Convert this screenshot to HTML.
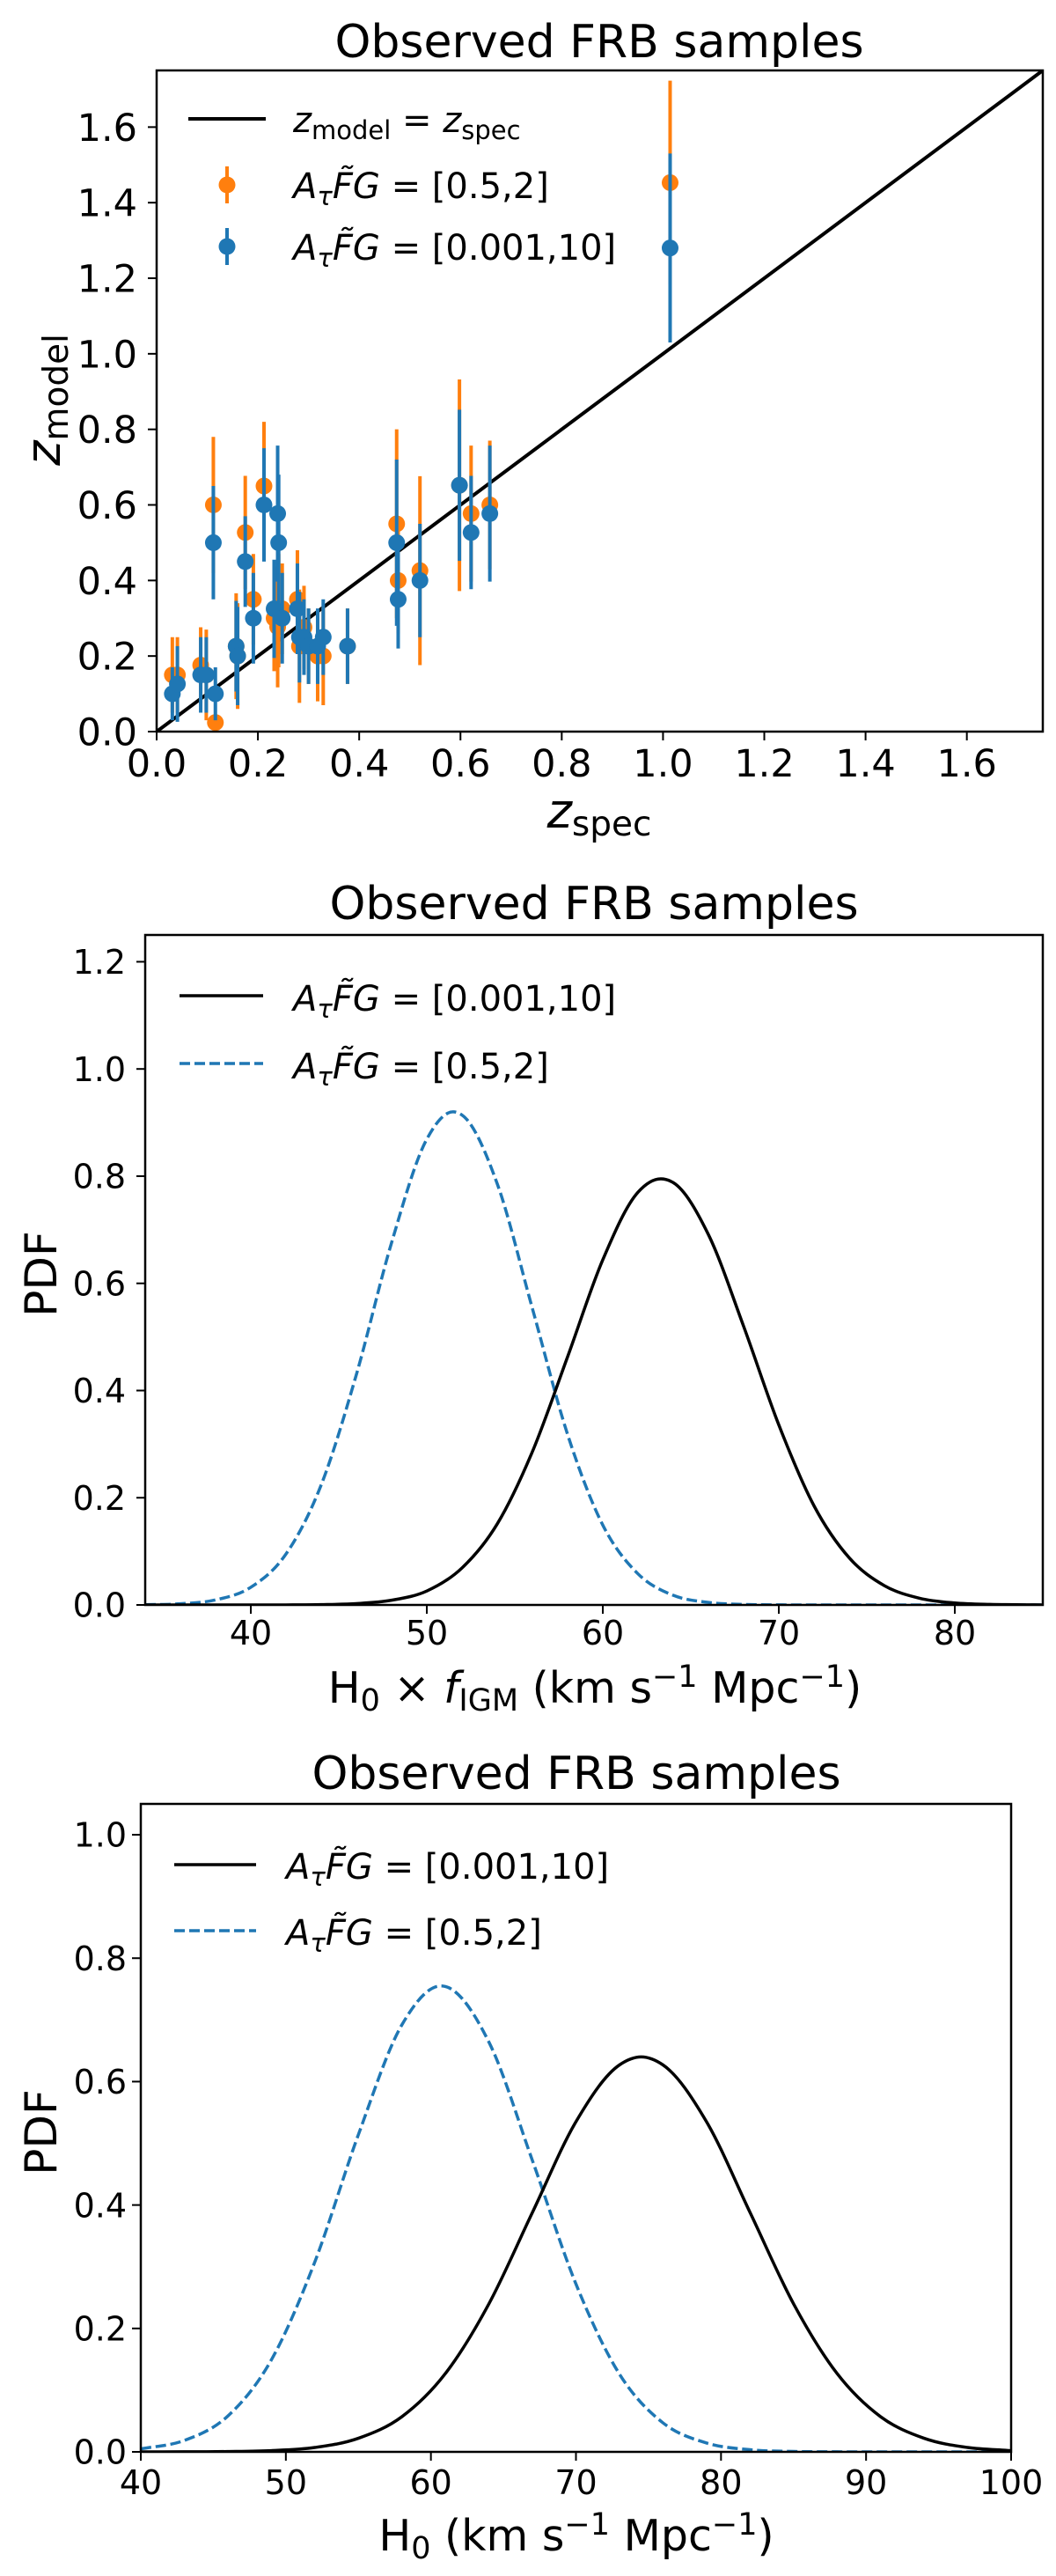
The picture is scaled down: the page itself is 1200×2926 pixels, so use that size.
<!DOCTYPE html>
<html><head><meta charset="utf-8">
<style>
html,body{margin:0;padding:0;background:#fff;}
svg{display:block;font-family:"DejaVu Sans","Liberation Sans",sans-serif;}
</style></head>
<body>
<svg id="fig" width="1200" height="2926" viewBox="0 0 1200 2926" xmlns="http://www.w3.org/2000/svg">
  <defs>
    <clipPath id="clip1"><rect x="178" y="80" width="1007" height="751"/></clipPath>
    <clipPath id="clip2"><rect x="165" y="1062" width="1020" height="761"/></clipPath>
    <clipPath id="clip3"><rect x="160" y="2049" width="989" height="736"/></clipPath>
  </defs>

  <!-- Panel 1 static text -->
  <text x="681" y="65" font-size="52" text-anchor="middle">Observed FRB samples</text>
  <text x="681" y="940" font-size="54" text-anchor="middle"><tspan font-style="italic">z</tspan><tspan font-size="39" dy="9">spec</tspan></text>
  <text transform="translate(68,454) rotate(-90)" font-size="54" text-anchor="middle"><tspan font-style="italic">z</tspan><tspan font-size="39" dy="9">model</tspan></text>

  <g>
    <line x1="214" y1="135" x2="302" y2="135" stroke="#000" stroke-width="4"/>
    <text x="333" y="150" font-size="40"><tspan font-style="italic">z</tspan><tspan font-size="29" dy="8">model</tspan><tspan dy="-8"> = </tspan><tspan font-style="italic">z</tspan><tspan font-size="29" dy="8">spec</tspan></text>
    <line x1="258" y1="189" x2="258" y2="231" stroke="#ff7f0e" stroke-width="4"/>
    <circle cx="258" cy="210" r="9.5" fill="#ff7f0e"/>
    <text x="333" y="225" font-size="40"><tspan font-style="italic">A</tspan><tspan font-size="29" dy="8" font-style="italic">τ</tspan><tspan dy="-8" font-style="italic">F̃G</tspan> = [0.5,2]</text>
    <line x1="258" y1="259" x2="258" y2="301" stroke="#1f77b4" stroke-width="4"/>
    <circle cx="258" cy="280" r="9.5" fill="#1f77b4"/>
    <text x="333" y="295" font-size="40"><tspan font-style="italic">A</tspan><tspan font-size="29" dy="8" font-style="italic">τ</tspan><tspan dy="-8" font-style="italic">F̃G</tspan> = [0.001,10]</text>
  </g>

  <!-- Panel 2 static text -->
  <text x="675" y="1044" font-size="52" text-anchor="middle">Observed FRB samples</text>
  <text x="676" y="1934" font-size="49" text-anchor="middle">H<tspan font-size="35" dy="9">0</tspan><tspan dy="-9"> × </tspan><tspan font-style="italic">f</tspan><tspan font-size="35" dy="9">IGM</tspan><tspan dy="-9"> (km s</tspan><tspan font-size="35" dy="-18">−1</tspan><tspan dy="18"> Mpc</tspan><tspan font-size="35" dy="-18">−1</tspan><tspan dy="18">)</tspan></text>
  <text transform="translate(64,1447) rotate(-90)" font-size="50" text-anchor="middle">PDF</text>
  <g>
    <line x1="204" y1="1131" x2="299" y2="1131" stroke="#000" stroke-width="3.5"/>
    <text x="333" y="1148" font-size="40"><tspan font-style="italic">A</tspan><tspan font-size="29" dy="8" font-style="italic">τ</tspan><tspan dy="-8" font-style="italic">F̃G</tspan> = [0.001,10]</text>
    <line x1="204" y1="1208" x2="299" y2="1208" stroke="#1f77b4" stroke-width="3.5" stroke-dasharray="12 5"/>
    <text x="333" y="1225" font-size="40"><tspan font-style="italic">A</tspan><tspan font-size="29" dy="8" font-style="italic">τ</tspan><tspan dy="-8" font-style="italic">F̃G</tspan> = [0.5,2]</text>
  </g>

  <!-- Panel 3 static text -->
  <text x="655" y="2032" font-size="52" text-anchor="middle">Observed FRB samples</text>
  <text x="655" y="2897" font-size="49" text-anchor="middle">H<tspan font-size="35" dy="9">0</tspan><tspan dy="-9"> (km s</tspan><tspan font-size="35" dy="-18">−1</tspan><tspan dy="18"> Mpc</tspan><tspan font-size="35" dy="-18">−1</tspan><tspan dy="18">)</tspan></text>
  <text transform="translate(64,2422) rotate(-90)" font-size="50" text-anchor="middle">PDF</text>
  <g>
    <line x1="198" y1="2118" x2="291" y2="2118" stroke="#000" stroke-width="3.5"/>
    <text x="325" y="2134" font-size="40"><tspan font-style="italic">A</tspan><tspan font-size="29" dy="8" font-style="italic">τ</tspan><tspan dy="-8" font-style="italic">F̃G</tspan> = [0.001,10]</text>
    <line x1="198" y1="2193" x2="291" y2="2193" stroke="#1f77b4" stroke-width="3.5" stroke-dasharray="12 5"/>
    <text x="325" y="2209" font-size="40"><tspan font-style="italic">A</tspan><tspan font-size="29" dy="8" font-style="italic">τ</tspan><tspan dy="-8" font-style="italic">F̃G</tspan> = [0.5,2]</text>
  </g>
</svg>

<script>
// ---------- Panel 1 data ----------
const zSpec = [0.031,0.041,0.087,0.098,0.112,0.116,0.157,0.160,0.175,0.191,0.212,0.232,0.239,0.241,0.248,0.278,0.282,0.291,0.300,0.318,0.329,0.377,0.474,0.477,0.520,0.598,0.621,0.658,1.014];
const zModelOrange = [0.15,0.15,0.176,0.15,0.60,0.024,0.226,0.20,0.527,0.35,0.65,0.30,0.277,0.32,0.325,0.35,0.226,0.276,0.226,0.20,0.20,0.226,0.55,0.40,0.426,0.652,0.577,0.60,1.453];
const errOrange = [0.10,0.10,0.10,0.12,0.18,0.02,0.14,0.14,0.15,0.12,0.17,0.14,0.16,0.15,0.12,0.13,0.15,0.11,0.10,0.12,0.13,0.10,0.25,0.14,0.25,0.28,0.18,0.17,0.27];
const zModelBlue = [0.10,0.126,0.15,0.15,0.50,0.10,0.226,0.20,0.45,0.30,0.60,0.325,0.577,0.50,0.30,0.325,0.25,0.25,0.226,0.226,0.25,0.226,0.50,0.35,0.40,0.652,0.527,0.577,1.28];
const errBlue = [0.07,0.10,0.10,0.10,0.15,0.07,0.12,0.13,0.12,0.12,0.15,0.13,0.18,0.18,0.12,0.12,0.12,0.10,0.10,0.10,0.10,0.10,0.22,0.13,0.15,0.20,0.15,0.18,0.25];
const ticks1 = [0.0,0.2,0.4,0.6,0.8,1.0,1.2,1.4,1.6];
const tickLabels1 = ["0.0","0.2","0.4","0.6","0.8","1.0","1.2","1.4","1.6"];

// ---------- Panel 2 data ----------
const h0f_x = [34,36,38,40,42,44,46,48,50,52,54,56,58,60,62,63.3,64,66,68,70,72,74,76,78,80,82,84,85];
const h0f_black = [0,0,0,0.00002,0.0001,0.0006,0.0025,0.0088,0.026,0.069,0.151,0.286,0.463,0.644,0.770,0.795,0.788,0.691,0.520,0.336,0.185,0.088,0.036,0.0125,0.0037,0.001,0.0003,0.0001];
const h0f_blueX = [34,36,38,40,42,44,46,48,50,51.5,52,54,56,58,60,62,64,66,68,70,75,80,85];
const h0f_blue = [0.0004,0.0022,0.0094,0.033,0.095,0.224,0.430,0.676,0.869,0.92,0.914,0.786,0.553,0.318,0.149,0.058,0.018,0.0047,0.001,0.0002,0,0,0];
const ticks2x = [40,50,60,70,80];
const ticks2y = [0.0,0.2,0.4,0.6,0.8,1.0,1.2];
const tickLabels2y = ["0.0","0.2","0.4","0.6","0.8","1.0","1.2"];

// ---------- Panel 3 data ----------
const h0_blackX = [40,43,46,49,52,55,58,61,64,67,70,73,74.5,76,79,82,85,88,91,94,97,100];
const h0_black = [0.00002,0.0001,0.0005,0.002,0.0071,0.022,0.057,0.127,0.240,0.388,0.535,0.627,0.64,0.627,0.535,0.388,0.240,0.127,0.057,0.022,0.0071,0.002];
const h0_blueX = [40,43,46,49,52,55,58,60.7,61,64,67,70,73,76,79,82,85,88,91,94,100];
const h0_blue = [0.0048,0.0185,0.058,0.149,0.308,0.514,0.692,0.755,0.754,0.664,0.472,0.272,0.126,0.047,0.0144,0.0035,0.0007,0.0001,0,0,0];
const ticks3x = [40,50,60,70,80,90,100];
const ticks3y = [0.0,0.2,0.4,0.6,0.8,1.0];
const tickLabels3y = ["0.0","0.2","0.4","0.6","0.8","1.0"];

const NS = 'http://www.w3.org/2000/svg';
const svg = document.getElementById('fig');
function mk(tag, attrs, parent){
  const e = document.createElementNS(NS, tag);
  for (const k in attrs) e.setAttribute(k, attrs[k]);
  (parent||svg).appendChild(e);
  return e;
}
function scale(d0,d1,p0,p1){ return v => p0 + (v-d0)/(d1-d0)*(p1-p0); }

function axesFrame(name, L,T,R,B){
  const r = mk('rect',{x:L,y:T,width:R-L,height:B-T,fill:'none',stroke:'#000','stroke-width':2.5});
  
  
}
function xTicks(name, vals, labels, sx, B, fs, base){
  vals.forEach((v,i)=>{
    const x = sx(v);
    const t = mk('line',{x1:x,y1:B,x2:x,y2:B+10,stroke:'#000','stroke-width':2});
    
    
    const l = mk('text',{x:x,y:base,'font-size':fs,'text-anchor':'middle'});
    l.textContent = labels[i];
    
    
  });
}
function yTicks(name, vals, labels, sy, L, fs, right){
  vals.forEach((v,i)=>{
    const y = sy(v);
    const t = mk('line',{x1:L-10,y1:y,x2:L,y2:y,stroke:'#000','stroke-width':2});
    
    
    const l = mk('text',{x:right,y:y+fs*0.36,'font-size':fs,'text-anchor':'end'});
    l.textContent = labels[i];
    
    
  });
}
// Cubic Hermite through the data points with slopes from neighbouring points (handles uneven spacing)
function smoothPath(xs, ys, sx, sy){
  const n = xs.length;
  const m = xs.map((x,i)=>{
    if (i===0) return (ys[1]-ys[0])/(xs[1]-xs[0]);
    if (i===n-1) return (ys[n-1]-ys[n-2])/(xs[n-1]-xs[n-2]);
    const a = (ys[i]-ys[i-1])/(xs[i]-xs[i-1]), b = (ys[i+1]-ys[i])/(xs[i+1]-xs[i]);
    if (a*b<=0) return 0;
    return (a*(xs[i+1]-xs[i]) + b*(xs[i]-xs[i-1]))/(xs[i+1]-xs[i-1]);
  });
  let d = 'M'+sx(xs[0]).toFixed(2)+','+sy(ys[0]).toFixed(2);
  for (let i=0;i<n-1;i++){
    const h = xs[i+1]-xs[i];
    const c1x = xs[i]+h/3, c1y = ys[i]+m[i]*h/3;
    const c2x = xs[i+1]-h/3, c2y = ys[i+1]-m[i+1]*h/3;
    d += ' C'+sx(c1x).toFixed(2)+','+sy(c1y).toFixed(2)+' '+sx(c2x).toFixed(2)+','+sy(c2y).toFixed(2)+' '+sx(xs[i+1]).toFixed(2)+','+sy(ys[i+1]).toFixed(2);
  }
  return d;
}

// ---------- Panel 1 ----------
(function(){
  const L=178,T=80,R=1185,B=831;
  const sx = scale(0,1.75,L,R), sy = scale(0,1.75,B,T);
  const g = mk('g',{'clip-path':'url(#clip1)'});
  
  
  const idl = mk('line',{x1:sx(0),y1:sy(0),x2:sx(1.75),y2:sy(1.75),stroke:'#000','stroke-width':4}, g);
  
  
  function series(vals, errs, color, nm){
    zSpec.forEach((x,i)=>{
      const e = mk('line',{x1:sx(x),x2:sx(x),y1:sy(vals[i]-errs[i]),y2:sy(vals[i]+errs[i]),stroke:color,'stroke-width':4}, g);
      
      
    });
    zSpec.forEach((x,i)=>{
      const c = mk('circle',{cx:sx(x),cy:sy(vals[i]),r:9.5,fill:color}, g);
      
      
    });
  }
  series(zModelOrange, errOrange, '#ff7f0e', 'orange');
  series(zModelBlue, errBlue, '#1f77b4', 'blue');
  axesFrame('panel1', L,T,R,B);
  xTicks('panel1', ticks1, tickLabels1, sx, B, 43, 882);
  yTicks('panel1', ticks1, tickLabels1, sy, L, 43, 156);
})();

// ---------- Panel 2 ----------
(function(){
  const L=165,T=1062,R=1185,B=1823;
  const sx = scale(34,85,L,R), sy = scale(0,1.25,B,T);
  const g = mk('g',{'clip-path':'url(#clip2)'});
  
  
  const pb = mk('path',{d:smoothPath(h0f_blueX,h0f_blue,sx,sy),fill:'none',stroke:'#1f77b4','stroke-width':3.5,'stroke-dasharray':'12 5'}, g);
  
  
  const pk = mk('path',{d:smoothPath(h0f_x,h0f_black,sx,sy),fill:'none',stroke:'#000','stroke-width':3.5}, g);
  
  
  axesFrame('panel2', L,T,R,B);
  xTicks('panel2', ticks2x, ticks2x.map(String), sx, B, 38, 1868);
  yTicks('panel2', ticks2y, tickLabels2y, sy, L, 38, 143);
})();

// ---------- Panel 3 ----------
(function(){
  const L=160,T=2049,R=1149,B=2785;
  const sx = scale(40,100,L,R), sy = scale(0,1.05,B,T);
  const g = mk('g',{'clip-path':'url(#clip3)'});
  
  
  const pb = mk('path',{d:smoothPath(h0_blueX,h0_blue,sx,sy),fill:'none',stroke:'#1f77b4','stroke-width':3.5,'stroke-dasharray':'12 5'}, g);
  
  
  const pk = mk('path',{d:smoothPath(h0_blackX,h0_black,sx,sy),fill:'none',stroke:'#000','stroke-width':3.5}, g);
  
  
  axesFrame('panel3', L,T,R,B);
  xTicks('panel3', ticks3x, ticks3x.map(String), sx, B, 38, 2833);
  yTicks('panel3', ticks3y, tickLabels3y, sy, L, 38, 144);
})();
</script>
</body></html>
